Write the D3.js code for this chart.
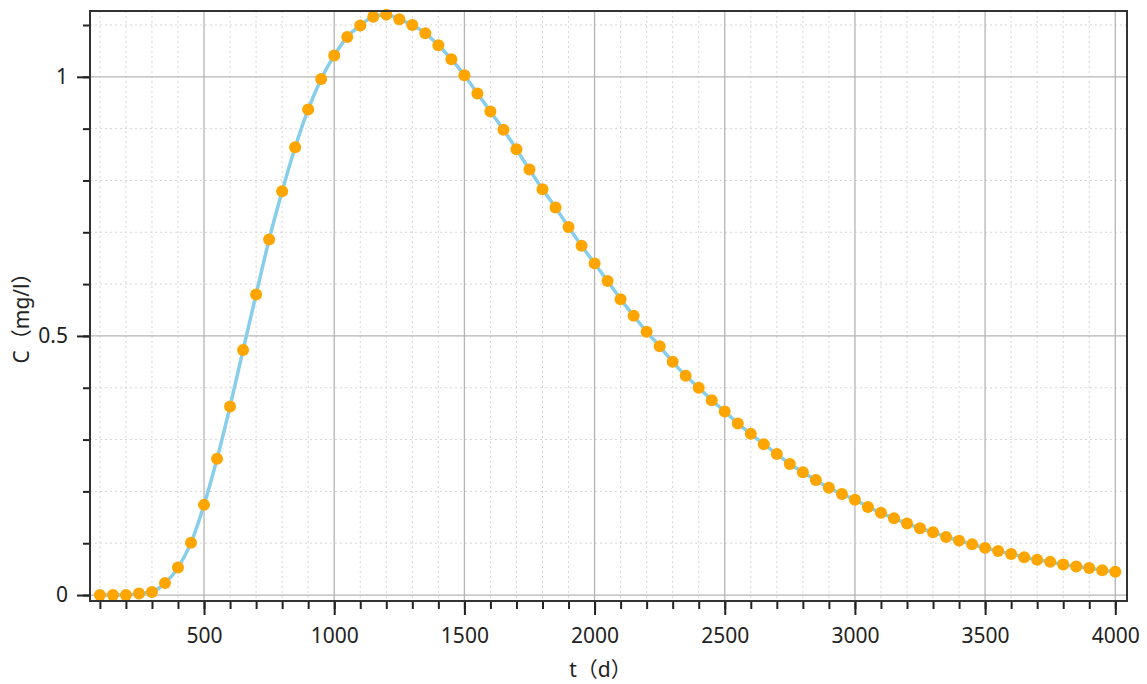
<!DOCTYPE html>
<html>
<head>
<meta charset="utf-8">
<script src="https://cdn.jsdelivr.net/npm/d3@7"></script>
<style>
  body { margin: 0; background: #fff; }
  svg text { font-family: "Noto Sans", "Noto Sans CJK SC", sans-serif; fill: #222; }
</style>
</head>
<body>
<svg id="chart" width="1147" height="684"></svg>
<script>
// time (d)
var times = d3.range(100, 4001, 50);
// concentration C (mg/l)
var conc = [
  0.000, 0.000, 0.000, 0.003, 0.006, 0.023, 0.053, 0.101, 0.174, 0.263,
  0.364, 0.473, 0.580, 0.686, 0.779, 0.864, 0.937, 0.996, 1.041, 1.077,
  1.099, 1.116, 1.120, 1.111, 1.100, 1.084, 1.061, 1.034, 1.003, 0.968,
  0.933, 0.898, 0.860, 0.821, 0.783, 0.748, 0.710, 0.674, 0.640, 0.606,
  0.571, 0.539, 0.508, 0.480, 0.450, 0.423, 0.400, 0.376, 0.354, 0.331,
  0.311, 0.291, 0.272, 0.253, 0.237, 0.222, 0.207, 0.195, 0.184, 0.170,
  0.159, 0.148, 0.138, 0.129, 0.121, 0.112, 0.105, 0.098, 0.091, 0.085,
  0.079, 0.073, 0.068, 0.064, 0.059, 0.055, 0.052, 0.048, 0.045
];
var xMajor = d3.range(500, 4001, 500);
var xMinor = d3.range(100, 4001, 100);
var yMajor = [0, 0.5, 1];
var yMinor = [0, 0.1, 0.2, 0.3, 0.4, 0.5, 0.6, 0.7, 0.8, 0.9, 1, 1.1];

var svg = d3.select("svg#chart"),
    margin = {top: 11, right: 20, bottom: 83, left: 90};
var width = +svg.attr("width") - margin.left - margin.right,
    height = +svg.attr("height") - margin.top - margin.bottom;

var data = times.map(function(t, i) { return {t: t, c: conc[i]}; });

var x = d3.scaleLinear().domain([62, 4045]).range([0, width]);
var y = d3.scaleLinear().domain([-0.0115, 1.127]).range([height, 0]);

var g = svg.append("g").attr("transform", "translate(" + margin.left + "," + margin.top + ")");

// minor grid (dotted)
g.append("g").selectAll("line")
  .data(xMinor.filter(function(d) { return d % 500 !== 0; }))
  .enter().append("line")
    .attr("x1", x).attr("x2", x).attr("y1", 0).attr("y2", height)
    .attr("stroke", "#d6d6d6").attr("stroke-dasharray", "2,3");
g.append("g").selectAll("line")
  .data(yMinor.filter(function(d) { return yMajor.indexOf(d) < 0; }))
  .enter().append("line")
    .attr("y1", y).attr("y2", y).attr("x1", 0).attr("x2", width)
    .attr("stroke", "#d6d6d6").attr("stroke-dasharray", "2,3");

// major grid
g.append("g").selectAll("line")
  .data(xMajor)
  .enter().append("line")
    .attr("x1", x).attr("x2", x).attr("y1", 0).attr("y2", height)
    .attr("stroke", "#b4b4b4").attr("stroke-width", 1.3);
g.append("g").selectAll("line")
  .data(yMajor)
  .enter().append("line")
    .attr("y1", y).attr("y2", y).attr("x1", 0).attr("x2", width)
    .attr("stroke", "#b4b4b4").attr("stroke-width", 1.3);

// curve + points
var line = d3.line()
  .x(function(d) { return x(d.t); })
  .y(function(d) { return y(d.c); })
  .curve(d3.curveMonotoneX);

g.append("path")
  .datum(data)
  .attr("fill", "none")
  .attr("stroke", "#87ceeb")
  .attr("stroke-width", 3.5)
  .attr("d", line);

g.append("g").selectAll("circle")
  .data(data)
  .enter().append("circle")
    .attr("cx", function(d) { return x(d.t); })
    .attr("cy", function(d) { return y(d.c); })
    .attr("r", 6)
    .attr("fill", "#ffa500");

// axes
function styleAxis(sel) {
  sel.select(".domain").remove();
  sel.selectAll(".tick line").attr("stroke", "#222").attr("stroke-width", 2);
  sel.selectAll(".tick text").attr("font-size", 21).attr("fill", "#222");
}

g.append("g")
    .attr("transform", "translate(0," + height + ")")
    .call(d3.axisBottom(x).tickValues(xMinor).tickSize(8).tickFormat(""))
    .call(styleAxis);
g.append("g")
    .attr("transform", "translate(0," + height + ")")
    .call(d3.axisBottom(x).tickValues(xMajor).tickSize(14).tickPadding(13).tickFormat(d3.format("d")))
    .call(styleAxis);

g.append("g")
    .call(d3.axisLeft(y).tickValues(yMinor).tickSize(7).tickFormat(""))
    .call(styleAxis);
g.append("g")
    .call(d3.axisLeft(y).tickValues(yMajor).tickSize(13).tickPadding(9).tickFormat(function(d) { return d; }))
    .call(styleAxis);

// frame
g.append("rect")
  .attr("width", width).attr("height", height)
  .attr("fill", "none").attr("stroke", "#333").attr("stroke-width", 2);

// titles
svg.append("text")
  .attr("x", margin.left + width / 2 - 8)
  .attr("y", 677)
  .attr("text-anchor", "middle")
  .attr("font-size", 21)
  .text("t（d）");

svg.append("text")
  .attr("transform", "translate(29," + 313 + ") rotate(-90)")
  .attr("text-anchor", "middle")
  .attr("font-size", 21)
  .text("C（mg/l）");
</script>
</body>
</html>
